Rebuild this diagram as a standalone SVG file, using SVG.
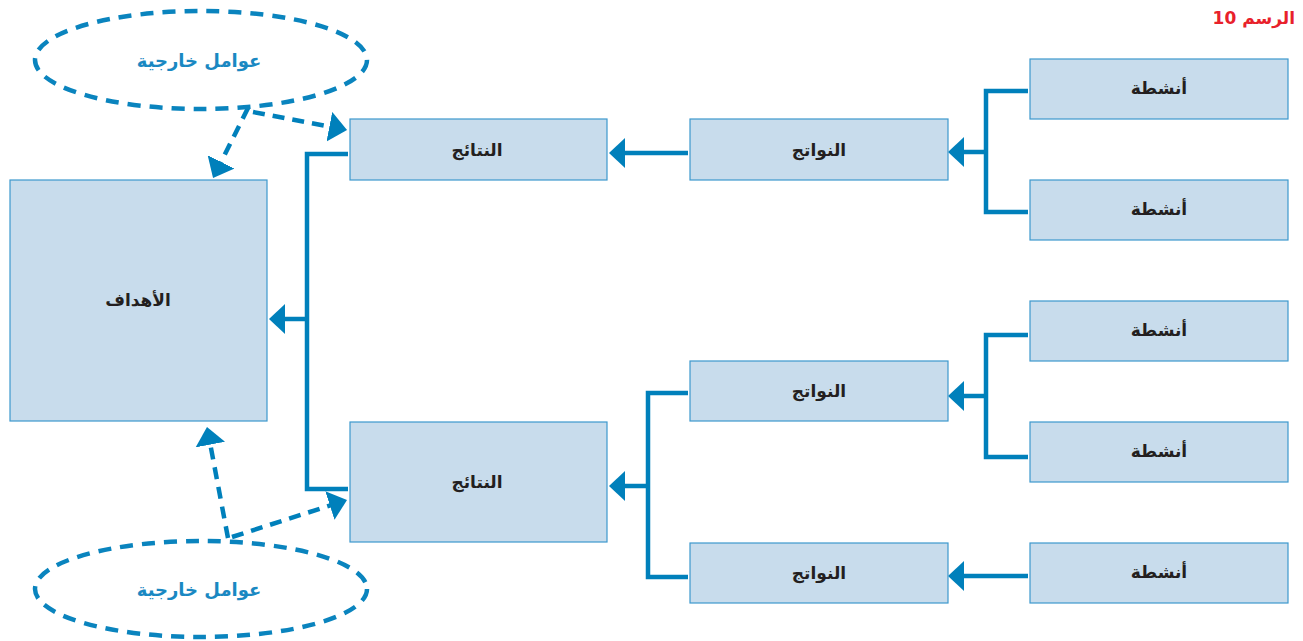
<svg xmlns="http://www.w3.org/2000/svg" width="1303" height="641" viewBox="0 0 1303 641">
<style>
.box{fill:#c8dcec;stroke:#3d98cd;stroke-width:1.2}
.lbl{font-family:"DejaVu Sans",sans-serif;font-weight:bold;font-size:17px;fill:#231f20;text-anchor:middle;dominant-baseline:central}
.ext{font-family:"DejaVu Sans",sans-serif;font-weight:bold;font-size:18px;fill:#1a88c2;text-anchor:middle;dominant-baseline:central}
.ttl{font-family:"DejaVu Sans",sans-serif;font-weight:bold;font-size:17px;fill:#e8212b;text-anchor:end;dominant-baseline:central}
.con{fill:none;stroke:#0080bb;stroke-width:4.5}
.dash{fill:none;stroke:#0080bb;stroke-width:4.5;stroke-dasharray:12 8}
.ell{fill:none;stroke:#0a84be;stroke-width:4.5;stroke-dasharray:13 9}
</style>
<defs>
<marker id="arr" markerUnits="userSpaceOnUse" viewBox="0 0 16 30" markerWidth="16" markerHeight="30" refX="2" refY="15" orient="auto">
<path d="M0,0 L16,15 L0,30 Z" fill="#0080bb"/>
</marker>
<marker id="darr" markerUnits="userSpaceOnUse" viewBox="0 0 18 30" markerWidth="18" markerHeight="30" refX="4" refY="15" orient="auto">
<path d="M0,0 L18,15 L0,30 Z" fill="#0080bb"/>
</marker>
</defs>
<text class="ttl" x="1295" y="18">الرسم 10</text>

<g id="connectors">
<path class="con" d="M1028,91 H986 V212 H1028"/>
<path class="con" d="M986,152 H962" marker-end="url(#arr)"/>
<path class="con" d="M1028,335 H986 V457 H1028"/>
<path class="con" d="M986,396 H962" marker-end="url(#arr)"/>
<path class="con" d="M1028,576 H962" marker-end="url(#arr)"/>
<path class="con" d="M688,153 H623" marker-end="url(#arr)"/>
<path class="con" d="M688,393 H648 V577 H688"/>
<path class="con" d="M648,486 H623" marker-end="url(#arr)"/>
<path class="con" d="M348,154 H307 V489 H348"/>
<path class="con" d="M307,319 H283" marker-end="url(#arr)"/>
<path class="dash" d="M248,108 L219.3,165.5" marker-end="url(#darr)"/>
<path class="dash" d="M253,112 L333.3,127.4" marker-end="url(#darr)"/>
<path class="dash" d="M228,538 L209.6,440.7" marker-end="url(#darr)"/>
<path class="dash" d="M232,537 L333.7,504.3" marker-end="url(#darr)"/>
</g>

<g id="ext-top">
<ellipse class="ell" cx="201" cy="60" rx="166" ry="49"/>
<text class="ext" x="199" y="60">عوامل خارجية</text>
</g>
<g id="ext-bottom">
<ellipse class="ell" cx="201" cy="589" rx="166" ry="48"/>
<text class="ext" x="199" y="589">عوامل خارجية</text>
</g>

<g id="goals"><rect class="box" x="10" y="180" width="257" height="241"/><text class="lbl" x="138" y="300">الأهداف</text></g>
<g id="results-1"><rect class="box" x="350" y="119" width="257" height="61"/><text class="lbl" x="477" y="150">النتائج</text></g>
<g id="results-2"><rect class="box" x="350" y="422" width="257" height="120"/><text class="lbl" x="477" y="482">النتائج</text></g>
<g id="products-1"><rect class="box" x="690" y="119" width="258" height="61"/><text class="lbl" x="819" y="150">النواتج</text></g>
<g id="products-2"><rect class="box" x="690" y="361" width="258" height="60"/><text class="lbl" x="819" y="391">النواتج</text></g>
<g id="products-3"><rect class="box" x="690" y="543" width="258" height="60"/><text class="lbl" x="819" y="573">النواتج</text></g>
<g id="act-1"><rect class="box" x="1030" y="59" width="258" height="60"/><text class="lbl" x="1159" y="88">أنشطة</text></g>
<g id="act-2"><rect class="box" x="1030" y="180" width="258" height="60"/><text class="lbl" x="1159" y="209">أنشطة</text></g>
<g id="act-3"><rect class="box" x="1030" y="301" width="258" height="60"/><text class="lbl" x="1159" y="330">أنشطة</text></g>
<g id="act-4"><rect class="box" x="1030" y="422" width="258" height="60"/><text class="lbl" x="1159" y="451">أنشطة</text></g>
<g id="act-5"><rect class="box" x="1030" y="543" width="258" height="60"/><text class="lbl" x="1159" y="572">أنشطة</text></g>
</svg>
